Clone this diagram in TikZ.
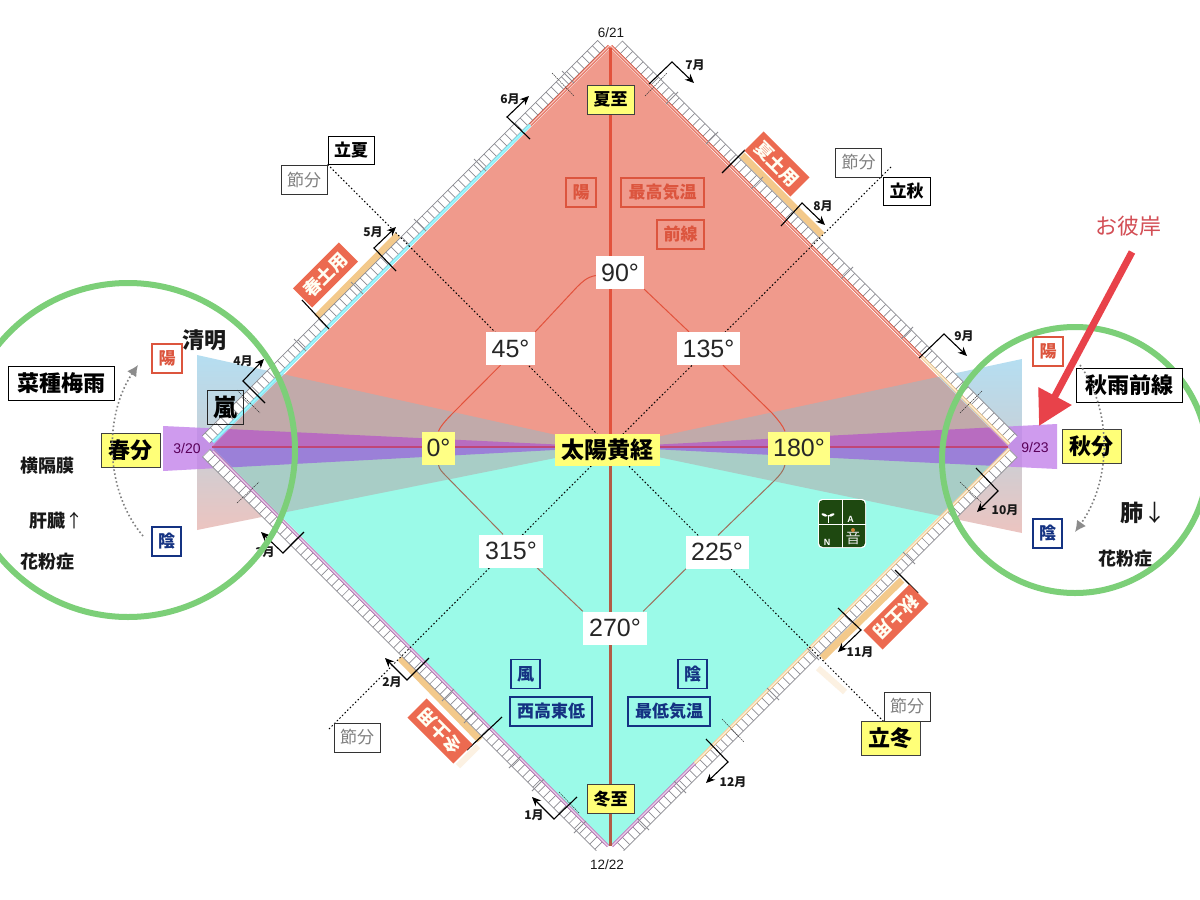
\documentclass[tikz,border=0pt]{standalone}
\usepackage{fontspec}
\setmainfont{Noto Sans CJK JP}
\newfontfamily\numfont{Liberation Sans}
\usetikzlibrary{arrows.meta,calc}
\pgfdeclarelayer{bg}\pgfdeclarelayer{top}\pgfsetlayers{bg,main,top}
\definecolor{redfill}{RGB}{240,154,140}
\definecolor{tealfill}{RGB}{155,250,232}
\definecolor{upw}{RGB}{193,170,170}
\definecolor{loww}{RGB}{168,205,198}
\definecolor{pupper}{RGB}{184,108,192}
\definecolor{plower}{RGB}{155,128,216}
\definecolor{pout}{RGB}{195,130,234}
\definecolor{skyb}{RGB}{181,222,241}
\definecolor{pinkb}{RGB}{236,196,192}
\definecolor{midb}{RGB}{200,208,215}
\definecolor{tanb}{RGB}{243,201,139}
\definecolor{yel}{RGB}{255,255,120}
\definecolor{labred}{RGB}{220,85,62}
\definecolor{boxred}{RGB}{236,106,80}
\definecolor{navyb}{RGB}{20,50,130}
\definecolor{grn}{RGB}{124,207,120}
\definecolor{linered}{RGB}{226,82,60}
\definecolor{linebrown}{RGB}{158,112,92}
\definecolor{axisbrown}{RGB}{178,92,70}
\definecolor{horiz}{RGB}{192,70,120}
\definecolor{arrowred}{RGB}{232,66,74}
\definecolor{bandg}{RGB}{140,140,146}
\definecolor{logog}{RGB}{30,72,16}
\newcommand\fs[1]{\fontsize{#1}{#1}\selectfont}
\newcommand\ladder[6]{%
  \draw[white,line width=10.4pt] (#1,#2)--(#3,#4);
  \draw[bandg,line width=10.4pt,dash pattern=on .7pt off 6.6pt] (#1,#2)--(#3,#4);
  \draw[bandg,line width=.7pt] (#1+#5,#2+#6)--(#3+#5,#4+#6);
  \draw[bandg,line width=.7pt] (#1-#5,#2-#6)--(#3-#5,#4-#6);}
\newcommand\bracket[6]{\draw[monthb] (#1,#2)--(#3,#4)--(#5,#6);}
\tikzset{
  x=1pt,y=-1pt,
  degbox/.style={fill=white,inner sep=0pt,font=\numfont\fs{25},text=black!85,minimum height=33pt},
  degyel/.style={degbox,fill=yel!90!white},
  yelbox/.style={draw=black!75,line width=.9pt,fill=yel,inner sep=0pt,font=\fs{17}\bfseries,minimum height=29pt},
  yelbig/.style={yelbox,font=\fs{22}\bfseries,minimum height=34pt},
  blackbox/.style={draw=black,line width=.9pt,fill=white,inner sep=0pt,font=\fs{17}\bfseries,minimum height=28pt},
  blackbig/.style={blackbox,font=\fs{22}\bfseries,minimum height=34pt},
  grybox/.style={draw=black!80,line width=.9pt,fill=white,inner sep=0pt,text=gray,font=\fs{17},minimum height=29pt,minimum width=46pt},
  redbox/.style={draw=labred,line width=1.2pt,inner sep=0pt,text=labred,font=\fs{17}\bfseries,minimum height=29pt},
  navybox/.style={draw=navyb,line width=1.2pt,inner sep=0pt,text=navyb,font=\fs{17}\bfseries,minimum height=29pt},
  doybox/.style={fill=boxred,text=white!95!yellow,inner sep=0pt,font=\fs{18}\bfseries,minimum width=65pt,minimum height=27pt},
  plain/.style={inner sep=0pt,font=\fs{18}\bfseries,text=black!90},
  month/.style={inner sep=0pt,font=\fs{12}\bfseries,text=black!90},
  datelab/.style={inner sep=0pt,font=\numfont\fs{13.5},text=black!90},
  monthb/.style={black,line width=1.1pt,-{Stealth[length=9pt,width=8pt]}},
  tickm/.style={black!80,line width=.5pt,dash pattern=on 1.5pt off .8pt},
  minor/.style={bandg,line width=.8pt},
  dots/.style={black,line width=1pt,dash pattern=on 1.5pt off 2.2pt},
  arcd/.style={gray,line width=1.6pt,dash pattern=on 1.6pt off 2.4pt,-{Latex[length=11pt,width=11pt,color=gray!90]}},
  linkb/.style={line width=1pt},
  edge/.style={line width=.9pt,double=white!70!#1,double distance=1.3pt,draw=#1},
}
\begin{document}
\begin{tikzpicture}
\useasboundingbox (0,0) rectangle (1200,900);
\coordinate (C) at (610,447);
\coordinate (NEend) at (891,167);
\coordinate (SWend) at (329,729);
\coordinate (arcLa) at (143,536); \coordinate (arcLb) at (138,365);
\coordinate (arcRa) at (1080,365); \coordinate (arcRb) at (1075,532);
\coordinate (arrS) at (1132,252); \coordinate (arrE) at (1039,426);
% ---- nodes
\node[degbox,minimum width=48pt] (d90) at (620,272.5) {90°};
\node[degbox,minimum width=49pt] (d45) at (510.5,348.5) {45°};
\node[degbox,minimum width=63pt] (d135) at (708.5,348.5) {135°};
\node[degyel,minimum width=33pt] (d0) at (438.5,448) {0°};
\node[degyel,minimum width=62pt] (d180) at (799,448) {180°};
\node[degbox,minimum width=64pt] (d315) at (511,551) {315°};
\node[degbox,minimum width=63pt] (d225) at (717,552) {225°};
\node[degbox,minimum width=64pt] (d270) at (615,628) {270°};
\node[fill=yel,inner sep=0pt,minimum width=105pt,minimum height=32pt,font=\fs{23}\bfseries] (sun) at (607.5,450) {太陽黄経};
\node[yelbox,minimum width=47pt] (geshi) at (610.5,99.5) {夏至};
\node[yelbox,minimum width=47pt] (toji) at (610.5,799) {冬至};
\node[yelbig,minimum width=59pt] (shunbun) at (130.5,450) {春分};
\node[yelbig,minimum width=59pt] (shubun) at (1091.5,446) {秋分};
\node[yelbig,minimum width=59pt] (ritto) at (890.5,738) {立冬};
\node[blackbox,minimum width=46pt] (rikka) at (351,150) {立夏};
\node[blackbox,minimum width=47pt] (risshu) at (906.5,191) {立秋};
\node[grybox] (s1) at (304,180) {節分};
\node[grybox] (s2) at (858.5,162.5) {節分};
\node[grybox] (s3) at (357,737.5) {節分};
\node[grybox] (s4) at (907,706.5) {節分};
\node[blackbig,minimum width=106pt] (nat) at (61,383) {菜種梅雨};
\node[draw=black!85,line width=.9pt,inner sep=0pt,minimum width=36pt,minimum height=34pt,font=\fs{24}\bfseries] (arashi) at (225,407) {嵐};
\node[plain,font=\fs{22}\bfseries] (seimei) at (204.5,340) {清明};
\node[redbox,minimum width=30pt,fill=white] (yl) at (167,358.5) {陽};
\node[navybox,minimum width=29pt,fill=white] (il) at (166.5,541.5) {陰};
\node[redbox,minimum width=30pt,fill=white] (yr) at (1048,351.5) {陽};
\node[navybox,minimum width=29pt,fill=white] (ir) at (1047.5,533.5) {陰};
\node[plain] (ok) at (47.5,466) {横隔膜};
\node[plain] (kan) at (56,521) {肝臓{\normalfont ↑}};
\node[plain] (kaL) at (47.5,562) {花粉症};
\node[plain,font=\fs{23}\bfseries] (hai) at (1143,513) {肺{\normalfont ↓}};
\node[plain] (kaR) at (1125,559) {花粉症};
\node[redbox,minimum width=30pt] (ryo) at (581,192.5) {陽};
\node[redbox,minimum width=83pt] (saiko) at (662.5,192.5) {最高気温};
\node[redbox,minimum width=47pt] (zen) at (680.5,234.5) {前線};
\node[navybox,minimum width=29pt] (kaze) at (525.5,674) {風};
\node[navybox,minimum width=82pt] (seiko) at (551,711.5) {西高東低};
\node[navybox,minimum width=29pt] (inn) at (692.5,674) {陰};
\node[navybox,minimum width=82pt] (saitei) at (669,711.5) {最低気温};
\node[doybox,rotate=45] (d1) at (325.5,275) {春土用};
\node[doybox,rotate=-45] (d2) at (777,164) {夏土用};
\node[doybox,rotate=225] (d3) at (896,617) {秋土用};
\node[doybox,rotate=135] (d4) at (440,731) {冬土用};
\node[month] (m6) at (510,99) {6月};
\node[month] (m7) at (695,65) {7月};
\node[month] (m8) at (823,206) {8月};
\node[month] (m9) at (964,336) {9月};
\node[month] (m10) at (1005,510) {10月};
\node[month] (m11) at (860,652) {11月};
\node[month] (m12) at (733,782) {12月};
\node[month] (m1) at (534,815) {1月};
\node[month] (m2) at (392,682) {2月};
\node[month] (m3) at (265,552) {3月};
\node[month] (m4) at (243,361) {4月};
\node[month] (m5) at (373,232) {5月};
\node[datelab] (t621) at (611,33) {6/21};
\node[datelab] (t1222) at (607,865) {12/22};
\node[datelab,text=violet!70!black,font=\numfont\fs{14}] (t320) at (187,448) {3/20};
\node[datelab,text=violet!70!black,font=\numfont\fs{14}] (t923) at (1035,447) {9/23};
\node[inner sep=0pt,text=arrowred!80!gray,font=\fs{22}] (higan) at (1128,226) {お彼岸};
% ---- everything behind the nodes
\begin{pgfonlayer}{bg}
\fill[white] (0,0) rectangle (1200,900);
% outer wedges
\shade[top color=skyb,bottom color=pinkb,middle color=midb] (197,355)--(610,447)--(197,530)--cycle;
\shade[top color=skyb,bottom color=pinkb,middle color=midb] (1022,359)--(610,447)--(1022,533)--cycle;
\fill[pout,fill opacity=.8] (163,426)--(610,447)--(163,471)--cycle;
\fill[pout,fill opacity=.8] (1057,424)--(610,447)--(1057,469)--cycle;
% tan stripes
\draw[tanb,line width=7pt] (398,235)--(317,317);
\draw[tanb,line width=7pt] (742,155)--(822,235);
\draw[tanb,line width=7pt] (902,580)--(822,658);
\draw[tanb,line width=7pt] (400,658)--(480,740);
\draw[tanb!25,line width=6pt] (818,668)--(845,692);
\draw[tanb!25,line width=6pt] (478,746)--(458,766);
% ladders
\ladder{601.5}{44}{206}{439.5}{3.7}{3.7}
\ladder{618.5}{44.5}{1013.5}{439.5}{-3.7}{3.7}
\ladder{206}{453}{600}{847}{3.7}{-3.7}
\ladder{1013.5}{453.5}{620}{847}{3.7}{3.7}
% diamond
\fill[redfill] (212,447)--(610,48)--(1008,447)--cycle;
\fill[tealfill] (212,447)--(610,846)--(1008,447)--cycle;
\begin{scope}
\clip (212,447)--(610,48)--(1008,447)--(610,846)--cycle;
\fill[upw] (197,355)--(610,447)--(197,447)--cycle;
\fill[upw] (1022,359)--(610,447)--(1022,447)--cycle;
\fill[loww] (197,530)--(610,447)--(197,447)--cycle;
\fill[loww] (1022,533)--(610,447)--(1022,447)--cycle;
\fill[pupper] (163,426)--(610,447)--(163,447)--cycle;
\fill[pupper] (1057,424)--(610,447)--(1057,447)--cycle;
\fill[plower] (163,471)--(610,447)--(163,447)--cycle;
\fill[plower] (1057,469)--(610,447)--(1057,447)--cycle;
\end{scope}
% coloured double edges
\draw[edge=linered] (609,46)--(530,125);
\draw[edge=skyb!70!cyan] (530,125)--(213,442);
\draw[edge=linered] (611,46)--(922,357);
\draw[edge=tanb] (922,357)--(1009,444);
\draw[edge=violet!55!white] (213,451)--(608,846);
\draw[edge=violet!55!white] (612,846)--(695,763);
\draw[edge=tanb] (695,763)--(1009,449);
% minor ticks across the band
\foreach \x/\y in {300/345,357/288,420/225,480/165,568/77}{\draw[minor] (\x-6,\y-6)--(\x+6,\y+6);}
\foreach \x/\y in {672/98,712/138,757/183,847/273,907/333}{\draw[minor] (\x-6,\y+6)--(\x+6,\y-6);}
\foreach \x/\y in {448/695,470/717,515/762,538/785,580/827}{\draw[minor] (\x-6,\y+6)--(\x+6,\y-6);}
\foreach \x/\y in {643/824,680/787,773/694,813/654,909/558}{\draw[minor] (\x-6,\y-6)--(\x+6,\y+6);}
% dashed month ticks
\draw[tickm] (552,73)--(574,96);
\draw[tickm] (645,96)--(667,73);
\draw[tickm] (237,390)--(260,413);
\draw[tickm] (237,503)--(259,482);
\draw[tickm] (960,413)--(982,391);
\draw[tickm] (960,482)--(982,503);
\draw[tickm] (722,719)--(744,742);
\draw[tickm] (559,792)--(579,813);
% main axes
\draw[linered,line width=3pt] (610,48)--(C);
\draw[axisbrown,line width=3pt] (C)--(610,846);
\draw[horiz,line width=1.1pt] (212,447)--(1008,447);
% dotted diagonals
\draw[dots] (rikka.south west)--(C);
\draw[dots] (NEend)--(C);
\draw[dots] (SWend)--(C);
\draw[dots] (s4.south west)--(C);
% solar-longitude links
\draw[linkb,linered] ($(d90.west)+(0,3)$) .. controls (587,277) and (582,282) .. (577,287)--(d45.north east);
\draw[linkb,linered] ($(d45.south)+(-10,0)$)--(453,413) .. controls (445,421) and (440,427) .. (d0.north);
\draw[linkb,linered] (d90.south east)--($(d135.north)+(-19.5,0)$);
\draw[linkb,linered] ($(d135.south)+(14.5,0)$)--(772,413) .. controls (779,421) and (783,426) .. ($(d180.north)+(-14,0)$);
\draw[linkb,linebrown] (d0.south) .. controls (439,469) and (442,472) .. (447,477)--($(d315.north)+(-8,0)$);
\draw[linkb,linebrown] ($(d180.south)+(-14,0)$) .. controls (784,470) and (780,475) .. (775,480)--($(d225.north)+(1,0)$);
\draw[linkb,linebrown] ($(d315.south)+(26,0)$)--(d270.north west);
\draw[linkb,linebrown] ($(d225.south)+(-31,0)$)--($(d270.north east)+(-4,0)$);
% doyo ticks
\draw[black,line width=1.1pt] (302,300)--(329,329);
\draw[black,line width=1.1pt] (745,150)--(722,173);
\draw[black,line width=1.1pt] (895,570)--(918,593);
\draw[black,line width=1.1pt] (467,750)--(502,717);
\end{pgfonlayer}
% ---- logo
\begin{scope}
\fill[white,rounded corners=4pt] (818,499) rectangle (866,548);
\fill[logog,rounded corners=4pt] (819,500) rectangle (865,547);
\draw[white,line width=1pt] (842,499)--(842,548) (818,524)--(866,524);
\draw[white,line width=1pt] (828,515)--(828,523);
\fill[white] (828,516) .. controls (824,512) and (820,513) .. (822,515) .. controls (824,517) and (826,517) .. (828,516)
  .. controls (832,512) and (836,513) .. (834,515) .. controls (832,517) and (830,517) .. (828,516);
\node[inner sep=0pt,text=white,font=\numfont\fs{9}\bfseries] (la) at (850.5,519) {A};
\node[inner sep=0pt,text=white,font=\numfont\fs{9}\bfseries] (ln) at (827,542) {N};
\node[inner sep=0pt,text=white!80!gray,font=\fs{15}] (lo) at (853,538) {音};
\fill[brown!80!orange] (853,530) circle (2pt);
\end{scope}
% ---- on top
\begin{pgfonlayer}{top}
\foreach \a/\b/\c/\d/\e/\f in {530/139/507/117/529/96, 649/84/672/62/694/83, 781/226/802/203/825/225,
  919/358/944/334/967/356, 976/468/998/491/977/512, 838/608/861/630/838/652, 706/739/728/762/706/783,
  577/797/554/819/532/797, 429/658/407/680/385/658, 304/532/283/553/261/532, 265/403/243/381/264/359,
  396/271/374/248/396/227}{\bracket{\a}{\b}{\c}{\d}{\e}{\f}}
\draw[grn,line width=6pt] (128,450) circle (167);
\draw[grn,line width=6pt] (1075,460) circle (133);
\node[blackbig,minimum width=106pt] (akisame) at (1129,385) {秋雨前線};
\draw[arcd] (arcLa) .. controls (104,490) and (104,415) .. (arcLb);
\draw[arcd] (arcRa) .. controls (1112,410) and (1112,480) .. (arcRb);
\draw[arrowred,line width=7pt,-{Triangle[length=34pt,width=36pt]}] (arrS)--(arrE);
\end{pgfonlayer}
\end{tikzpicture}
\end{document}
